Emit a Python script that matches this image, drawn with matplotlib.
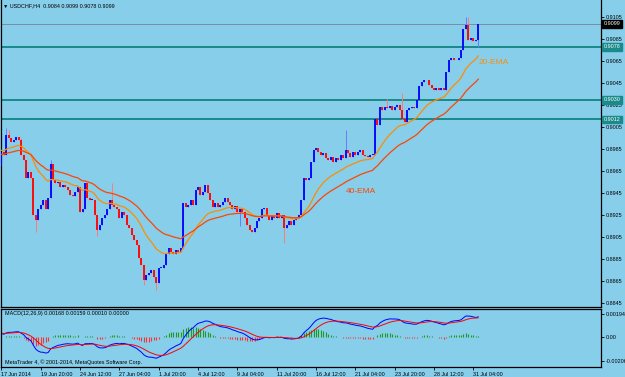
import matplotlib
matplotlib.use("Agg")
import matplotlib.pyplot as plt
import matplotlib.transforms as mtransforms
import numpy as np

plt.rcParams['font.family'] = ['Liberation Sans', 'DejaVu Sans']

# USDCHF H4 closes, 17 Jun 04:00 .. 31 Jul 12:00
first_open = 0.8970
closes = [
    0.8982, 0.8980, 0.8998, 0.8995, 0.8991, 0.8993, 0.8996, 0.8993, 0.8980, 0.8975,
    0.8959, 0.8964, 0.8959, 0.8925, 0.8920, 0.8930, 0.8934, 0.8939, 0.8930, 0.8940,
    0.8971, 0.8957, 0.8954, 0.8955, 0.8950, 0.8952, 0.8950, 0.8948, 0.8943, 0.8942,
    0.8946, 0.8950, 0.8928, 0.8930, 0.8954, 0.8940, 0.8939, 0.8939, 0.8925, 0.8911,
    0.8916, 0.8922, 0.8925, 0.8930, 0.8939, 0.8934, 0.8932, 0.8930, 0.8922, 0.8928,
    0.8925, 0.8916, 0.8913, 0.8907, 0.8902, 0.8898, 0.8886, 0.8879, 0.8866, 0.8870,
    0.8872, 0.8875, 0.8868, 0.8863, 0.8877, 0.8877, 0.8879, 0.8889, 0.8895, 0.8891,
    0.8889, 0.8893, 0.8891, 0.8895, 0.8936, 0.8932, 0.8934, 0.8939, 0.8934, 0.8948,
    0.8950, 0.8943, 0.8946, 0.8952, 0.8945, 0.8939, 0.8932, 0.8936, 0.8932, 0.8934,
    0.8937, 0.8940, 0.8937, 0.8934, 0.8930, 0.8933, 0.8928, 0.8930, 0.8928, 0.8922,
    0.8916, 0.8911, 0.8909, 0.8913, 0.8919, 0.8922, 0.8930, 0.8931, 0.8925, 0.8920,
    0.8925, 0.8922, 0.8927, 0.8922, 0.8925, 0.8913, 0.8916, 0.8919, 0.8916, 0.8920,
    0.8922, 0.8925, 0.8939, 0.8959, 0.8957, 0.8959, 0.8973, 0.8984, 0.8986, 0.8982,
    0.8980, 0.8981, 0.8977, 0.8975, 0.8978, 0.8973, 0.8977, 0.8975, 0.8980, 0.8977,
    0.8984, 0.8981, 0.8978, 0.8982, 0.8980, 0.8982, 0.8984, 0.8980, 0.8979, 0.8978,
    0.8980, 0.8980, 0.9012, 0.9007, 0.9023, 0.9021, 0.9023, 0.9022, 0.9024, 0.9021,
    0.9023, 0.9025, 0.9021, 0.9012, 0.9010, 0.9021, 0.9022, 0.9023, 0.9022, 0.9030,
    0.9042, 0.9046, 0.9048, 0.9048, 0.9043, 0.9041, 0.9039, 0.9041, 0.9039, 0.9041,
    0.9039, 0.9055, 0.9066, 0.9068, 0.9066, 0.9066, 0.9068, 0.9075, 0.9094, 0.9098,
    0.9084, 0.9086, 0.9083, 0.9084, 0.9099,
]
# visible wick extremes
wick_highs = {2: 0.9004, 3: 0.9002, 8: 0.8995, 20: 0.8975, 45: 0.8954, 140: 0.9002,
              157: 0.9031, 163: 0.9036, 189: 0.9105, 190: 0.9105, 194: 0.9099}
wick_lows = {14: 0.8909, 39: 0.8906, 58: 0.8861, 63: 0.8857, 97: 0.8915, 115: 0.8899,
             194: 0.9078}

# indicator values just before the first visible bar
ema20_seed, ema40_seed = 0.8984, 0.8980
ema12_seed, ema26_seed, signal_seed = 0.8984, 0.8981, 0.0003

time_labels = ["17 Jun 2014", "19 Jun 20:00", "24 Jun 12:00", "27 Jun 04:00", "1 Jul 20:00",
               "4 Jul 12:00", "9 Jul 04:00", "11 Jul 20:00", "16 Jul 12:00", "21 Jul 04:00",
               "23 Jul 20:00", "28 Jul 12:00", "31 Jul 04:00"]
price_ticks = [0.8845, 0.8865, 0.8885, 0.8905, 0.8925, 0.8945, 0.8965, 0.8985,
               0.9005, 0.9025, 0.9045, 0.9065, 0.9085, 0.9105]
hlines = [0.9078, 0.9030, 0.9012]
bid = 0.9099
macd_ticks = [-0.00206, 0.0, 0.00194]


def ema(values, n, seed):
    a = 2.0 / (n + 1)
    out, prev = [], seed
    for v in values:
        prev = a * v + (1 - a) * prev
        out.append(prev)
    return np.array(out)


closes = np.array(closes)
n = len(closes)
idx = np.arange(n)
opens = np.concatenate([[first_open], closes[:-1]])
highs = np.maximum(opens, closes)
lows = np.minimum(opens, closes)
for k, v in wick_highs.items():
    highs[k] = max(highs[k], v)
for k, v in wick_lows.items():
    lows[k] = min(lows[k], v)

ema20 = ema(closes, 20, ema20_seed)
ema40 = ema(closes, 40, ema40_seed)
macd = ema(closes, 12, ema12_seed) - ema(closes, 26, ema26_seed)
signal = ema(macd, 9, signal_seed)
hist = macd - signal

bg = "#87CEEB"
W, H = 625, 377
fig = plt.figure(figsize=(W / 100, H / 100), dpi=100, facecolor=bg)
ax = fig.add_axes([1 / W, 1 - 307 / H, 600 / W, 307 / H], facecolor=bg)
ax2 = fig.add_axes([1 / W, 1 - 367 / H, 600 / W, 58 / H], facecolor=bg)

xmin = -0.16
xmax = xmin + 600 / 2.458

# candles
up = closes >= opens
ax.vlines(idx[up], lows[up], highs[up], color="#6a7cff", lw=0.7, zorder=2)
ax.vlines(idx[~up], lows[~up], highs[~up], color="#ff7a7a", lw=0.7, zorder=2)
body_lo = np.minimum(opens, closes)
body_hi = np.maximum(np.maximum(opens, closes), body_lo + 0.00003)
ax.vlines(idx[up], body_lo[up], body_hi[up], color="#0000ff", lw=1.3, zorder=3)
ax.vlines(idx[~up], body_lo[~up], body_hi[~up], color="#ff0000", lw=1.3, zorder=3)

ax.plot(idx, ema20, color="#ff8c00", lw=0.9, zorder=4)
ax.plot(idx, ema40, color="#ff4500", lw=0.9, zorder=4)
ax.text(194.0, 0.9064, "20-EMA", color="#ff8c00", fontsize=6, va="center")
ax.text(140.1, 0.8946, "40-EMA", color="#ff4500", fontsize=6, va="center")

for v in hlines:
    ax.axhline(v, color="#1a8a8a", lw=1.4, zorder=1)
ax.axhline(bid, color="#7a8fa0", lw=0.7, zorder=1)

ax.set_xlim(xmin, xmax)
ax.set_ylim(0.88411, 0.91208)
ax.set_xticks([])
ax.yaxis.tick_right()
ax.set_yticks(price_ticks)
ax.set_yticklabels([f"{t:.4f}" for t in price_ticks])
ax.tick_params(axis="y", length=2, width=0.6, pad=1.5, labelsize=3.9, colors="black")
ax.spines["top"].set_visible(False)
for s in ["left", "right", "bottom"]:
    ax.spines[s].set_linewidth(0.9)

# price boxes on the scale
trans = mtransforms.blended_transform_factory(ax.transAxes, ax.transData)
ax.text(1.004, bid, f"{bid:.4f}", transform=trans, fontsize=3.9, color="white", va="center",
        ha="left", bbox=dict(boxstyle="square,pad=0.25", fc="black", ec="black"), zorder=6,
        clip_on=False)
for v in hlines:
    ax.text(1.004, v, f"{v:.4f}", transform=trans, fontsize=3.9, color="white", va="center",
            ha="left", bbox=dict(boxstyle="square,pad=0.25", fc="#1a8a8a", ec="#1a8a8a"),
            zorder=6, clip_on=False)

# MACD pane
colors = np.where(hist >= 0, "#1f9a1f", "#ff3030")
ax2.vlines(idx, 0, hist, colors=colors, lw=0.8)
ax2.plot(idx, macd, color="#0000ff", lw=0.7)
ax2.plot(idx, signal, color="#ff0000", lw=0.7)
ax2.set_xlim(xmin, xmax)
ax2.set_ylim(-0.002579, 0.002357)
ax2.yaxis.tick_right()
ax2.set_yticks(macd_ticks)
ax2.set_yticklabels(["-0.00206", "0.00", "0.00194"])
ax2.set_xticks(np.arange(len(time_labels)) * 16)
ax2.set_xticklabels(time_labels)
for lbl in ax2.get_xticklabels():
    lbl.set_horizontalalignment("left")
ax2.tick_params(axis="both", length=2, width=0.6, pad=1.5, labelsize=3.9, colors="black")
for s in ax2.spines.values():
    s.set_linewidth(0.9)

fig.text(3 / W, 1 - 6 / H, "\u25bc USDCHF,H4  0.9084 0.9099 0.9078 0.9099", fontsize=3.9,
         va="center", ha="left")
fig.text(5 / W, 1 - 314 / H, "MACD(12,26,9) 0.00168 0.00159 0.00010 0.00000", fontsize=3.9,
         va="center", ha="left")
fig.text(5 / W, 1 - 362 / H, "MetaTrader 4, \u00a9 2001-2014, MetaQuotes Software Corp.",
         fontsize=3.9, va="center", ha="left")

fig.savefig("out.png", dpi=100, facecolor=bg)
